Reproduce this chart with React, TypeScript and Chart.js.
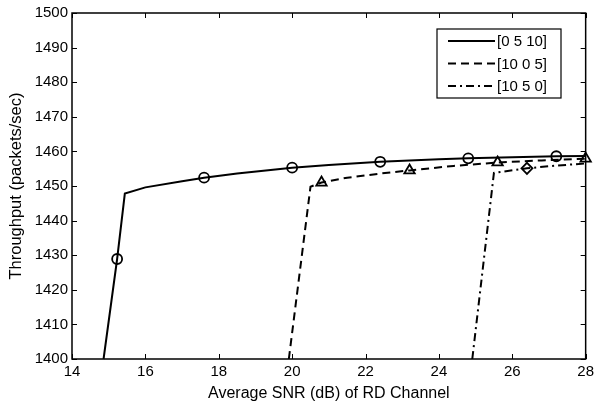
import React, { useEffect, useRef } from "react";
import { Chart, registerables } from "chart.js";

Chart.register(...registerables);

// Curve samples (x = Average SNR dB, y = throughput)
const solidX = [14.86, 15.23, 15.44, 16.0, 17.0, 17.6, 18.5, 20.0, 21.0, 22.4, 24.0, 24.8, 26.0, 27.2, 28.0];
const solidY = [1400, 1428.9, 1447.8, 1449.6, 1451.4, 1452.4, 1453.6, 1455.3, 1456.1, 1457.0, 1457.7, 1458.0, 1458.3, 1458.6, 1458.7];

const dashedX = [19.91, 20.5, 20.8, 21.5, 22.4, 23.2, 24.4, 25.6, 26.8, 28.0];
const dashedY = [1400, 1449.8, 1451.0, 1452.4, 1453.6, 1454.5, 1455.8, 1456.8, 1457.4, 1457.9];

const dashDotX = [24.91, 25.5, 26.4, 27.2, 28.0];
const dashDotY = [1400, 1453.8, 1455.1, 1455.9, 1456.5];

// Marker positions
const circleX = [15.23, 17.6, 20.0, 22.4, 24.8, 27.2];
const circleY = [1428.9, 1452.4, 1455.3, 1457.0, 1458.0, 1458.6];
const triangleX = [20.8, 23.2, 25.6, 28.0];
const triangleY = [1451.0, 1454.5, 1456.8, 1457.9];
const diamondX = [26.4];
const diamondY = [1455.1];

const seriesLabels = ["[0 5 10]", "[10 0 5]", "[10 5 0]"];
const seriesDashes: number[][] = [[], [8, 5], [8, 4, 2, 4]];

const xTicks = [14, 16, 18, 20, 22, 24, 26, 28];
const yTicks = [1400, 1410, 1420, 1430, 1440, 1450, 1460, 1470, 1480, 1490, 1500];

const FONT = "'Liberation Sans', Arial, Helvetica, sans-serif";

const zip = (xs: number[], ys: number[]) => xs.map((x, i) => ({ x, y: ys[i] }));

const boxPlugin = {
  id: "matlabBox",
  afterDraw(chart: any) {
    const { ctx, chartArea: a, scales } = chart;
    ctx.save();
    ctx.strokeStyle = "#000";
    ctx.lineWidth = 1;
    ctx.setLineDash([]);
    ctx.beginPath();
    const tl = 5;
    xTicks.forEach((v) => {
      const px = Math.round(scales.x.getPixelForValue(v)) + 0.5;
      ctx.moveTo(px, a.bottom);
      ctx.lineTo(px, a.bottom - tl);
      ctx.moveTo(px, a.top);
      ctx.lineTo(px, a.top + tl);
    });
    yTicks.forEach((v) => {
      const py = Math.round(scales.y.getPixelForValue(v)) + 0.5;
      ctx.moveTo(a.left, py);
      ctx.lineTo(a.left + tl, py);
      ctx.moveTo(a.right, py);
      ctx.lineTo(a.right - tl, py);
    });
    ctx.stroke();
    ctx.lineWidth = 1.5;
    ctx.strokeRect(a.left, a.top, a.right - a.left, a.bottom - a.top);

    // legend
    const lx = 437, ly = 29, lw = 124, lh = 69;
    ctx.fillStyle = "#fff";
    ctx.fillRect(lx, ly, lw, lh);
    ctx.lineWidth = 1.2;
    ctx.strokeRect(lx, ly, lw, lh);
    ctx.font = `15px ${FONT}`;
    ctx.textBaseline = "middle";
    ctx.textAlign = "left";
    seriesLabels.forEach((lab, i) => {
      const y = ly + 12 + i * 22.5;
      ctx.beginPath();
      ctx.lineWidth = 2.2;
      ctx.setLineDash(seriesDashes[i]);
      ctx.moveTo(448, y);
      ctx.lineTo(495, y);
      ctx.stroke();
      ctx.setLineDash([]);
      ctx.fillStyle = "#000";
      ctx.fillText(lab, 497, y + 1);
    });
    ctx.restore();
  },
};

export default function App() {
  const ref = useRef<HTMLCanvasElement | null>(null);
  useEffect(() => {
    document.body.style.margin = "0";
    if (!ref.current) return;
    const lineDs = (data: any[], dash: number[]) => ({
      data,
      showLine: true,
      borderColor: "#000",
      borderWidth: 2,
      borderDash: dash,
      pointRadius: 0,
      fill: false,
      tension: 0,
    });
    const markDs = (data: any[], style: string, r: number) => ({
      data,
      showLine: false,
      borderColor: "#000",
      backgroundColor: "rgba(0,0,0,0)",
      borderWidth: 1.8,
      pointStyle: style,
      pointRadius: r,
    });
    const chart = new Chart(ref.current, {
      type: "scatter",
      data: {
        datasets: [
          lineDs(zip(solidX, solidY), seriesDashes[0]),
          lineDs(zip(dashedX, dashedY), seriesDashes[1]),
          lineDs(zip(dashDotX, dashDotY), seriesDashes[2]),
          markDs(zip(circleX, circleY), "circle", 5),
          markDs(zip(triangleX, triangleY), "triangle", 6),
          markDs(zip(diamondX, diamondY), "rectRot", 5.5),
        ] as any,
      },
      options: {
        animation: false,
        responsive: false,
        clip: false as any,
        layout: { padding: { top: 13, right: 9, left: 0, bottom: 0 } },
        plugins: { legend: { display: false }, tooltip: { enabled: false } },
        scales: {
          x: {
            type: "linear",
            min: 14,
            max: 28,
            afterFit: (s: any) => { s.height = 44; },
            afterBuildTicks: (s: any) => { s.ticks = xTicks.map((v) => ({ value: v })); },
            grid: { display: false, drawTicks: false, tickLength: 0 },
            border: { display: false },
            ticks: { color: "#000", font: { family: FONT, size: 15 }, padding: 4, maxRotation: 0, callback: (v: any) => String(v) },
            title: { display: true, text: "Average SNR (dB) of RD Channel", color: "#000", font: { family: FONT, size: 16 }, padding: { top: 0, bottom: 0 } },
          },
          y: {
            type: "linear",
            min: 1400,
            max: 1500,
            afterFit: (s: any) => { s.width = 72; },
            afterBuildTicks: (s: any) => { s.ticks = yTicks.map((v) => ({ value: v })); },
            grid: { display: false, drawTicks: false, tickLength: 0 },
            border: { display: false },
            ticks: { color: "#000", font: { family: FONT, size: 15 }, padding: 4, callback: (v: any) => String(v) },
            title: { display: true, text: "Throughput (packets/sec)", color: "#000", font: { family: FONT, size: 16.5 }, padding: { top: 7, bottom: 0 } },
          },
        },
      },
      plugins: [boxPlugin],
    });
    return () => chart.destroy();
  }, []);
  return (
    <div style={{ position: "fixed", left: 0, top: 0, width: 598, height: 403, background: "#fff" }}>
      <canvas ref={ref} width={598} height={403} style={{ display: "block" }} />
    </div>
  );
}
